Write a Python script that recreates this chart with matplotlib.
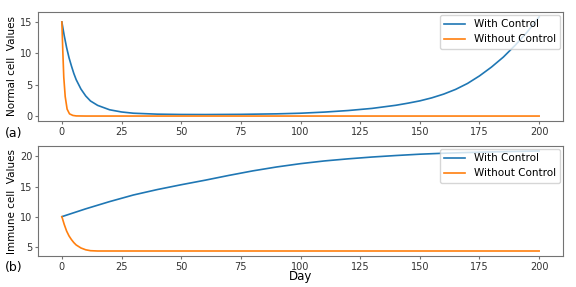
import matplotlib
matplotlib.use("Agg")
import matplotlib.pyplot as plt

# normal cells (panel a)
days_n_ctrl = [0, 1, 2, 3, 4, 5, 6, 8, 10, 12, 15, 20, 25, 30, 40, 50, 60, 75, 90, 100,
               110, 120, 130, 140, 145, 150, 155, 160, 165, 170, 175, 180, 185, 190, 195, 200]
normal_ctrl = [15, 12.8, 10.9, 9.3, 8.0, 6.8, 5.8, 4.3, 3.2, 2.4, 1.7, 1.0, 0.65, 0.45, 0.3, 0.25, 0.24, 0.27, 0.35, 0.45,
               0.63, 0.88, 1.22, 1.72, 2.05, 2.42, 2.9, 3.5, 4.25, 5.2, 6.4, 7.8, 9.4, 11.3, 13.4, 15.8]
days_n_free = [0, 0.4, 0.8, 1.4, 2.2, 3.2, 4.6, 6, 10, 50, 100, 150, 200]
normal_free = [15, 10.3, 6.2, 3.1, 1.1, 0.35, 0.1, 0.02, 0, 0, 0, 0, 0]

# immune cells (panel b)
days_i_ctrl = [0, 10, 20, 30, 40, 50, 60, 70, 80, 90, 100, 110, 120, 130, 140, 150, 160, 170, 180, 190, 200]
immune_ctrl = [10, 11.3, 12.5, 13.6, 14.5, 15.3, 16.05, 16.85, 17.6, 18.25, 18.8, 19.25, 19.6, 19.9, 20.15, 20.37,
               20.53, 20.65, 20.75, 20.83, 20.9]
days_i_free = [0, 1, 2, 3, 4, 5, 6, 8, 10, 12, 15, 20, 50, 100, 150, 200]
immune_free = [10, 8.7, 7.6, 6.8, 6.2, 5.7, 5.3, 4.8, 4.5, 4.35, 4.3, 4.3, 4.3, 4.3, 4.3, 4.3]

plt.rcParams['font.size'] = 7.5
lw = 1.2

fig = plt.figure(figsize=(5.76, 2.87), dpi=100)
ax1 = fig.add_axes([38/576, 1 - 121/287, 525/576, 109/287])
ax2 = fig.add_axes([38/576, 1 - 256/287, 525/576, 110/287])

ax1.plot(days_n_ctrl, normal_ctrl, color="#1f77b4", lw=lw, label="With Control")
ax1.plot(days_n_free, normal_free, color="#ff7f0e", lw=lw, label="Without Control")
ax1.set_ylabel("Normal cell  Values", fontsize=7.5)
ax1.legend(loc="upper right", fontsize=7.5, borderaxespad=0.3)

ax2.plot(days_i_ctrl, immune_ctrl, color="#1f77b4", lw=lw, label="With Control")
ax2.plot(days_i_free, immune_free, color="#ff7f0e", lw=lw, label="Without Control")
ax2.set_ylabel("Immune cell  Values", fontsize=7.5)
ax2.set_xlabel("Day", fontsize=8.5)
ax2.xaxis.set_label_coords(0.5, -0.13)
ax2.legend(loc="upper right", fontsize=7.5, borderaxespad=0.3)

for ax in (ax1, ax2):
    ax.set_xticks([0, 25, 50, 75, 100, 125, 150, 175, 200])
    for s in ax.spines.values():
        s.set_color("0.45")
    ax.tick_params(colors="0.45", labelcolor="0.2", labelsize=7, length=2.5, pad=1.5)
    ax.yaxis.set_label_coords(-0.04, 0.5)

fig.text(5/576, 1 - 133/287, "(a)", fontsize=9, va="center")
fig.text(5/576, 1 - 268/287, "(b)", fontsize=9, va="center")

fig.savefig("out.png", dpi=100)
